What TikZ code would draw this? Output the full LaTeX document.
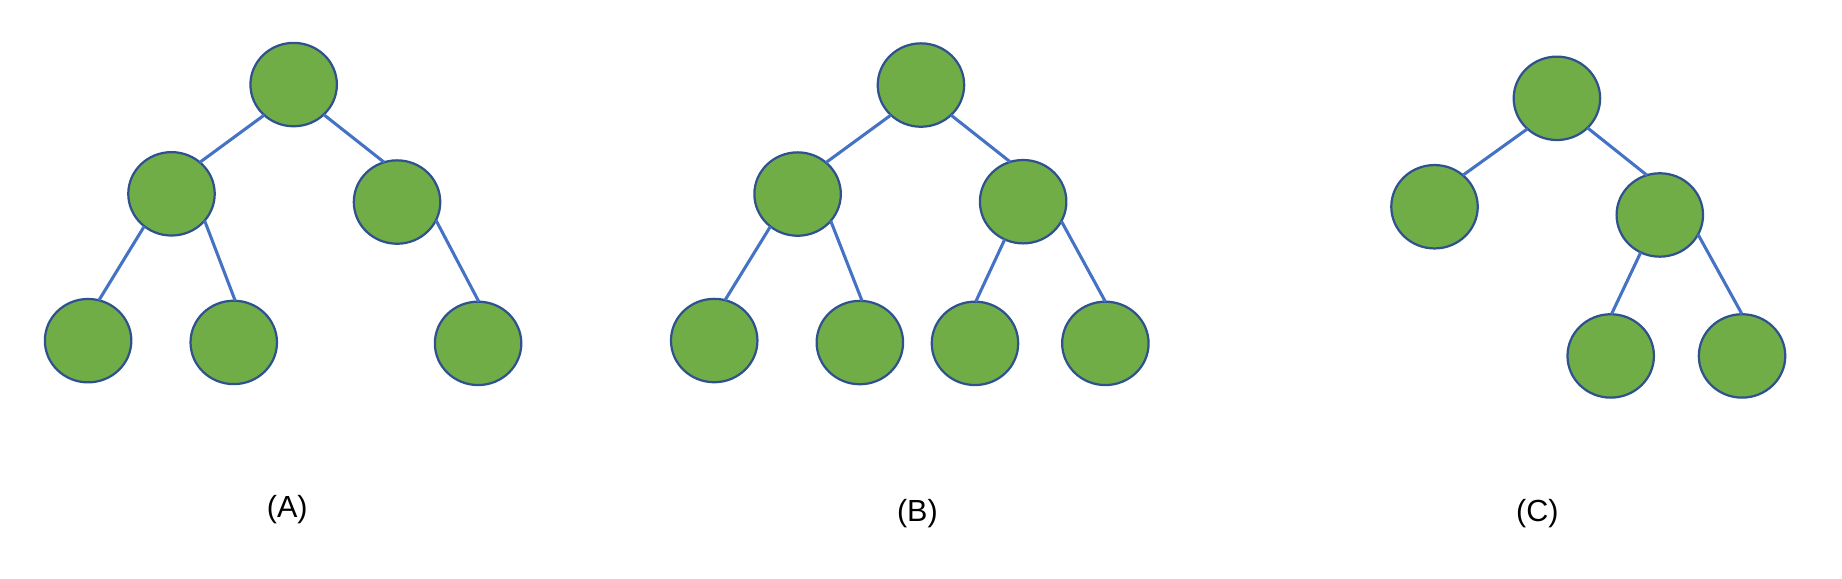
\documentclass[tikz,border=0pt]{standalone}
\usepackage{fontspec}
\setmainfont{Liberation Sans}
\usetikzlibrary{shapes.geometric}
\definecolor{nodefill}{HTML}{70AD47}
\definecolor{nodeborder}{HTML}{2F528F}
\definecolor{edgeblue}{HTML}{4472C4}
\begin{document}
\begin{tikzpicture}[x=0.5pt,y=-0.5pt,
  treenode/.style={ellipse,draw=nodeborder,fill=nodefill,line width=0.95pt,
    minimum width=36.8pt,minimum height=35.5pt,inner sep=0pt,outer sep=0pt},
  edge/.style={draw=edgeblue,line width=1.3pt},
  caption/.style={font=\fontsize{13}{15}\selectfont,inner sep=0pt}]
\useasboundingbox (0,0) rectangle (1568.1,492.9);
% Tree A
\node[treenode] (a0) at (250,72) {};
\node[treenode] (a1) at (146,165) {};
\node[treenode] (a2) at (338,172) {};
\node[treenode] (a3) at (75,290) {};
\node[treenode] (a4) at (199,291.5) {};
\node[treenode] (a5) at (407,292.3) {};
\draw[edge] (a0.226) -- (a1.48);
\draw[edge] (a0.315) -- (a2.108);
\draw[edge] (a1.230) -- (a3.75);
\draw[edge] (a1.321) -- (a4.88);
\draw[edge] (a2.335) -- (a5.89);
\node[caption] (la) at (244.5,434) {(A)};
% Tree B
\node[treenode] (b0) at (784,72.4) {};
\node[treenode] (b1) at (679,165.2) {};
\node[treenode] (b2) at (871,171.7) {};
\node[treenode] (b3) at (608,289.9) {};
\node[treenode] (b4) at (732,291.6) {};
\node[treenode] (b5) at (830,292.3) {};
\node[treenode] (b6) at (941,292.3) {};
\draw[edge] (b0.225) -- (b1.48);
\draw[edge] (b0.315) -- (b2.108);
\draw[edge] (b1.230) -- (b3.75);
\draw[edge] (b1.321) -- (b4.87);
\draw[edge] (b2.244) -- (b5.89);
\draw[edge] (b2.333) -- (b6.90);
\node[caption] (lb) at (781,437.5) {(B)};
% Tree C
\node[treenode] (c0) at (1325.4,83.7) {};
\node[treenode] (c1) at (1221.2,176) {};
\node[treenode] (c2) at (1413,183) {};
\node[treenode] (c3) at (1371.2,303) {};
\node[treenode] (c4) at (1483,303) {};
\draw[edge] (c0.226) -- (c1.48);
\draw[edge] (c0.316) -- (c2.108);
\draw[edge] (c2.243) -- (c3.89);
\draw[edge] (c2.333) -- (c4.90);
\node[caption] (lc) at (1308.8,437.5) {(C)};
\end{tikzpicture}
\end{document}
